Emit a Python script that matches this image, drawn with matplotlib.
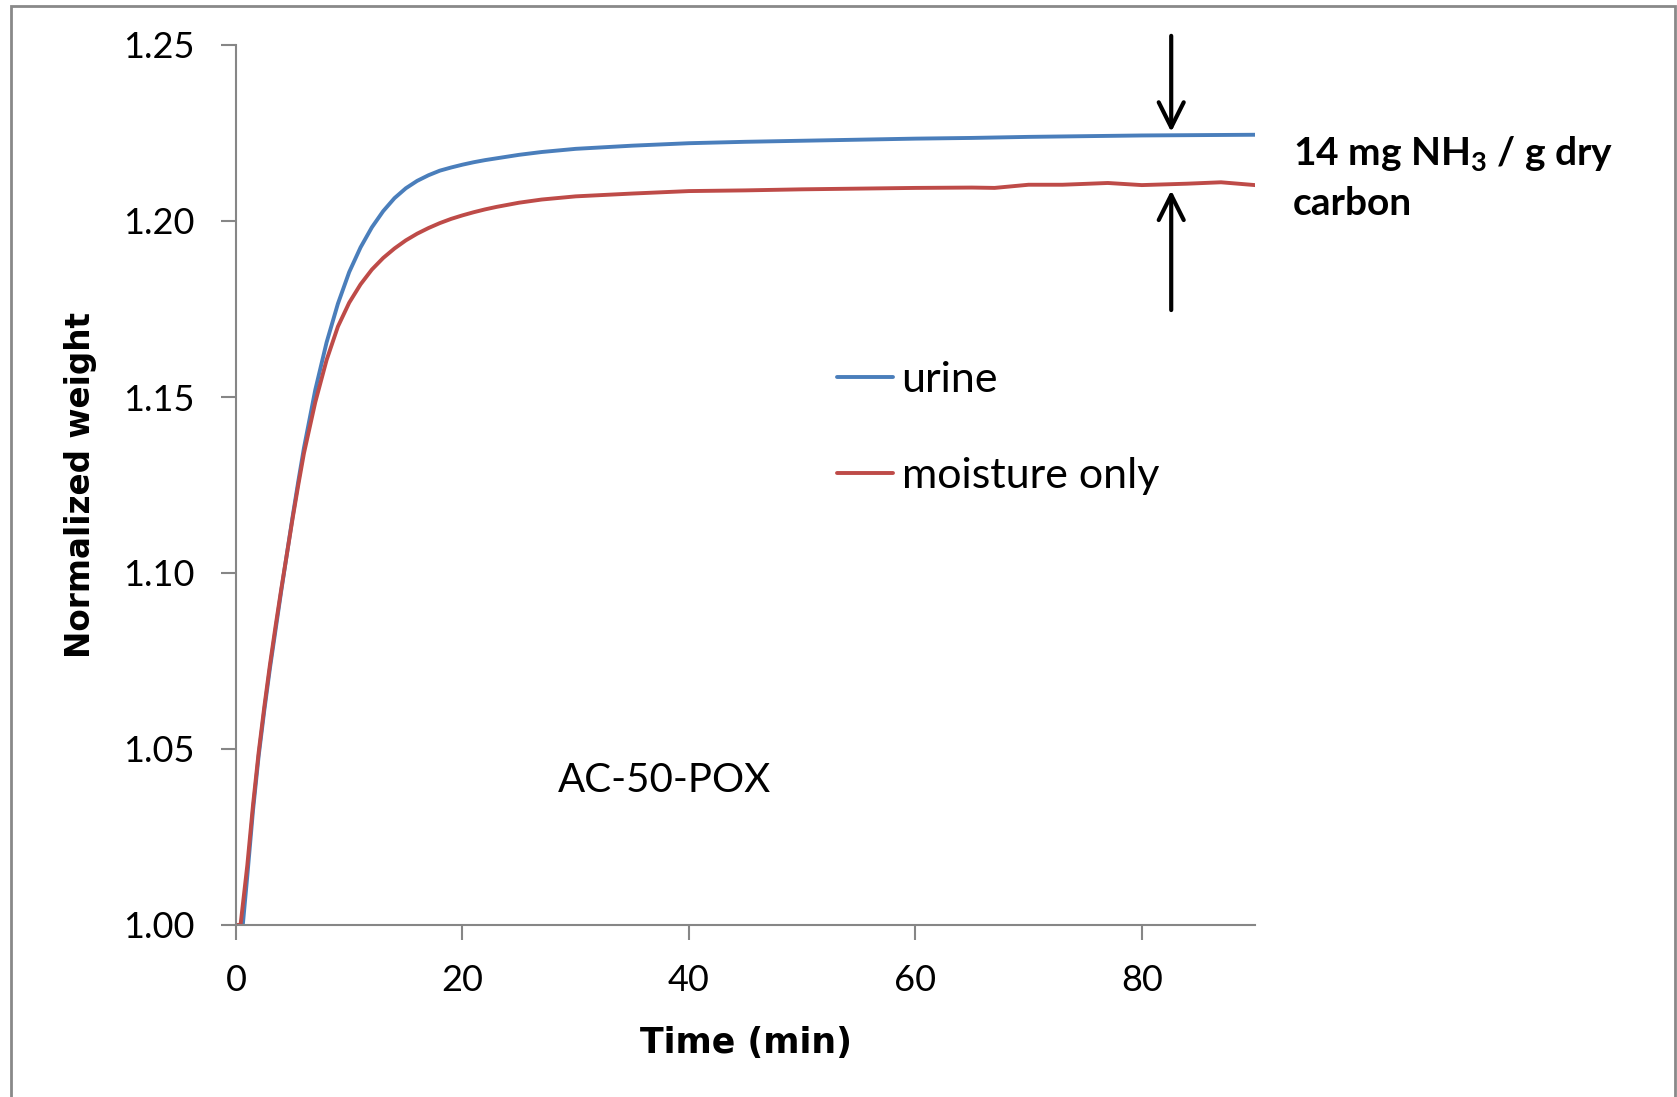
import matplotlib
matplotlib.use("Agg")
import matplotlib.pyplot as plt
from matplotlib.patches import Rectangle

plt.rcParams['font.family'] = ['Lato', 'DejaVu Sans']
plt.rcParams['mathtext.fontset'] = 'custom'
plt.rcParams['mathtext.rm'] = 'Lato:bold'
plt.rcParams['mathtext.it'] = 'Lato:bold'
plt.rcParams['mathtext.bf'] = 'Lato:bold'

# ---- data ----
time_urine = [0, 0.6, 1, 1.5, 2, 2.5, 3, 3.5, 4, 4.5, 5, 5.5, 6, 7, 8, 9, 10, 11, 12, 13,
              14, 15, 16, 17, 18, 19, 20, 21, 22, 23, 24, 25, 27, 30, 35, 40, 45, 50, 55,
              60, 65, 70, 75, 80, 85, 90]
urine = [1.000, 1.000, 1.014, 1.0325, 1.048, 1.061, 1.073, 1.084, 1.095, 1.1055, 1.116,
         1.126, 1.1355, 1.152, 1.1655, 1.1765, 1.1855, 1.1925, 1.1982, 1.2028, 1.2065,
         1.2093, 1.2114, 1.2130, 1.2143, 1.2152, 1.2160, 1.2167, 1.2173, 1.2178, 1.2183,
         1.2188, 1.2196, 1.2205, 1.2214, 1.2221, 1.2225, 1.2228, 1.2231, 1.2234, 1.2236,
         1.2239, 1.2241, 1.2243, 1.2244, 1.2245]

time_moist = [0, 0.4, 1, 1.5, 2, 2.5, 3, 3.5, 4, 4.5, 5, 5.5, 6, 7, 8, 9, 10, 11, 12, 13,
              14, 15, 16, 17, 18, 19, 20, 21, 22, 23, 24, 25, 27, 30, 35, 40, 45, 50, 55,
              60, 65, 67, 70, 73, 77, 80, 84, 87, 90]
moisture = [1.000, 1.000, 1.017, 1.034, 1.049, 1.062, 1.074, 1.085, 1.0955, 1.1055, 1.1155,
            1.125, 1.134, 1.1485, 1.1605, 1.1700, 1.1768, 1.1820, 1.1862, 1.1895, 1.1922,
            1.1945, 1.1964, 1.1980, 1.1994, 1.2006, 1.2016, 1.2025, 1.2033, 1.2040,
            1.2046, 1.2052, 1.2061, 1.2070, 1.2078, 1.2085, 1.2087, 1.2090, 1.2092,
            1.2094, 1.2095, 1.2094, 1.2103, 1.2103, 1.2108, 1.2102, 1.2106, 1.2110, 1.2102]

series_labels = ["urine", "moisture only"]
x_ticks = [0, 20, 40, 60, 80]
y_ticks = [1.00, 1.05, 1.10, 1.15, 1.20, 1.25]
x_label = "Time (min)"
y_label = "Normalized weight"
sample_label = "AC-50-POX"
diff_label_1 = r"14 mg NH$_3$ / g dry"
diff_label_2 = "carbon"

W, H = 1677, 1097
fig = plt.figure(figsize=(W / 100, H / 100), dpi=100)
ax = fig.add_axes([236 / W, 1 - 925 / H, (1255 - 236) / W, (925 - 45) / H])

blue = "#4A7EBB"
red = "#BE4B48"
ax.plot(time_urine, urine, color=blue, lw=2.8, label=series_labels[0],
        solid_capstyle='round', solid_joinstyle='round')
ax.plot(time_moist, moisture, color=red, lw=2.8, label=series_labels[1],
        solid_capstyle='round', solid_joinstyle='round')

ax.set_xlim(0, 90)
ax.set_ylim(1.0, 1.25)
ax.set_xticks(x_ticks)
ax.set_yticks(y_ticks)
ax.set_yticklabels([f"{v:.2f}" for v in y_ticks])
for s in ['top', 'right']:
    ax.spines[s].set_visible(False)
for s in ['left', 'bottom']:
    ax.spines[s].set_color('#868686')
    ax.spines[s].set_linewidth(1.5)
ax.tick_params(axis='both', direction='out', length=11, width=1.5, color='#868686',
               labelsize=26, labelcolor='#000000')
ax.tick_params(axis='y', pad=19)
ax.tick_params(axis='x', pad=17)

leg = ax.legend(loc='upper left', bbox_to_anchor=(837 / W, 1 - 361 / H),
                bbox_transform=fig.transFigure, frameon=False, borderpad=0,
                borderaxespad=0, handlelength=1.3, handletextpad=0.2,
                labelspacing=1.35, prop={'family': 'Lato', 'size': 31})

ax.text(28.4, 1.0378, sample_label, fontsize=29, family='Lato', va='baseline', ha='left')

# arrows marking the gap between plateaus
arrow_x = 82.6
ax.annotate('', xy=(arrow_x, 1.2253), xytext=(arrow_x, 1.2526),
            arrowprops=dict(arrowstyle='->,head_length=0.6,head_width=0.3',
                            lw=3, color='black', mutation_scale=30,
                            shrinkA=0, shrinkB=0), annotation_clip=False)
ax.annotate('', xy=(arrow_x, 1.2087), xytext=(arrow_x, 1.1747),
            arrowprops=dict(arrowstyle='->,head_length=0.6,head_width=0.3',
                            lw=3, color='black', mutation_scale=30,
                            shrinkA=0, shrinkB=0), annotation_clip=False)

fig.text(1293 / W, 1 - 165 / H, diff_label_1, fontsize=28, family='Lato',
         weight='bold', ha='left', va='baseline')
fig.text(1293 / W, 1 - 215 / H, diff_label_2, fontsize=28, family='Lato',
         weight='bold', ha='left', va='baseline')

fig.text(746 / W, 1 - 1053 / H, x_label, fontsize=25, family='DejaVu Sans',
         weight='bold', ha='center', va='baseline')
fig.text(90 / W, 1 - 485.5 / H, y_label, fontsize=23.5, family='DejaVu Sans',
         weight='bold', ha='center', va='baseline', rotation=90, rotation_mode='anchor')

# chart-area border
fig.patches.append(Rectangle((11 / W, -0.05), (1675 - 11) / W, 1 - 6 / H + 0.05,
                             transform=fig.transFigure, fill=False,
                             edgecolor='#898989', lw=2))

fig.savefig("out.png", dpi=100)
